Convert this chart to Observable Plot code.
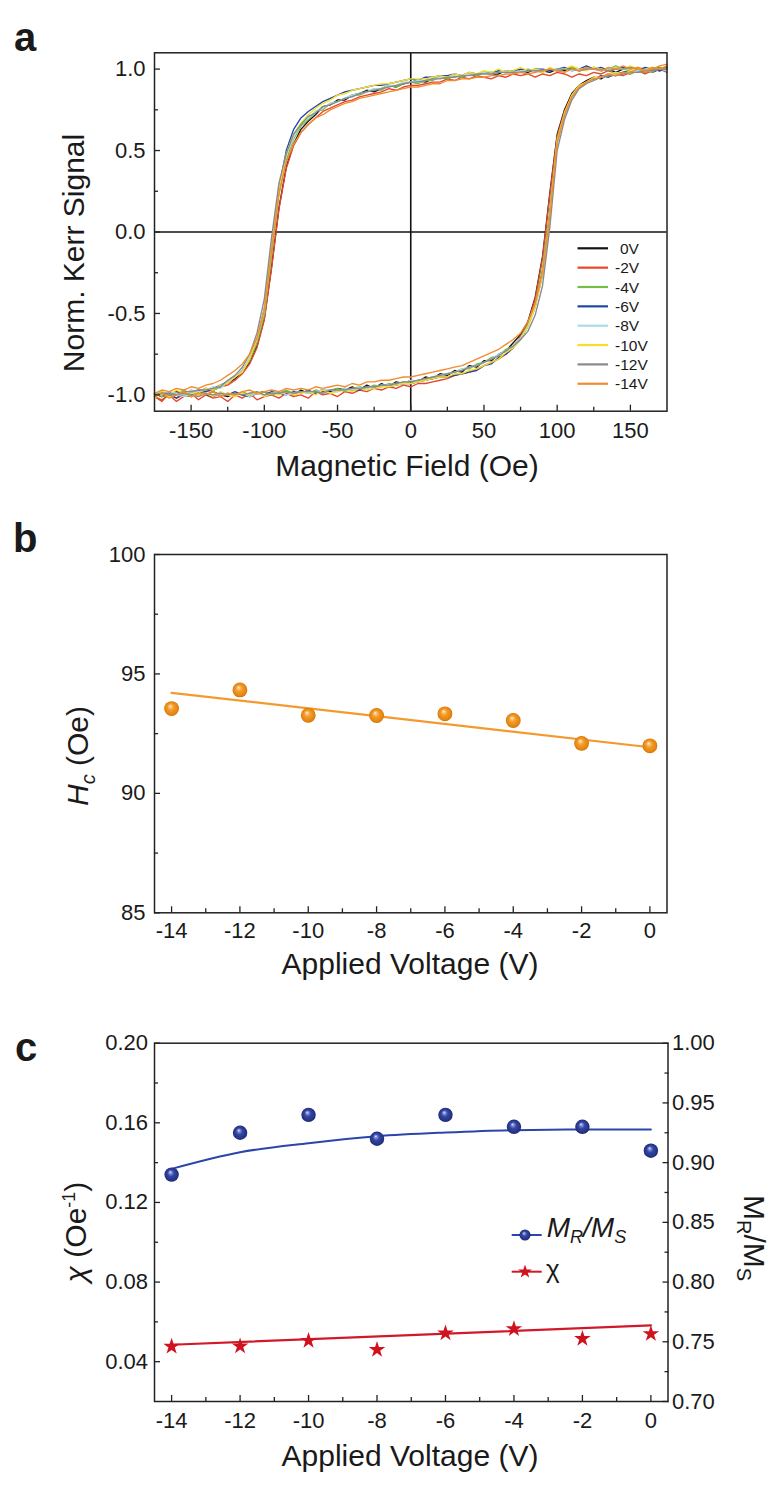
<!DOCTYPE html>
<html>
<head>
<meta charset="utf-8">
<script src="https://cdn.jsdelivr.net/npm/d3@7"></script>
<script src="https://cdn.jsdelivr.net/npm/@observablehq/plot@0.6"></script>
<style>
  html, body { margin: 0; padding: 0; background: #ffffff; }
  #chart { width: 780px; }
  #chart svg { display: block; }
</style>
</head>
<body>
<div id="chart"></div>
<script>
const FONT = '"Liberation Sans", Arial, Helvetica, sans-serif';

// ================= Panel a : Kerr hysteresis loops =================
const voltageLabels = ["0V", "-2V", "-4V", "-6V", "-8V", "-10V", "-12V", "-14V"];
const voltageColors = ["#141414", "#E8452C", "#72BF44", "#1F48A6", "#A9DCEB", "#F5DF2A", "#8A8A8A", "#F28B30"];

// applied magnetic field (Oe) at which the loops are read
const fieldOe = [-175,-170,-165,-160,-155,-150,-145,-140,-135,-130,-125,-120,-115,-110,-105,-100,-95,-90,-85,-80,
  -75,-70,-65,-60,-55,-50,-45,-40,-35,-30,-25,-20,-15,-10,-5,0,5,10,15,20,25,30,35,40,45,50,55,60,65,70,
  75,80,85,90,95,100,105,110,115,120,125,130,135,140,145,150,155,160,165,170,175];

// normalized Kerr signal ×100, field sweeping down (upper branch) and up (lower branch)
const sweepDown_0V = [-99,-101,-98,-100,-98,-98,-99,-96,-97,-95, -93,-90,-86,-80,-70,-53,-21,15,40,54,
  63,68,72,77,78,81,81,84,85,87, 86,88,90,89,91,92,93,92,94,95, 94,96,95,97,96,98,97,97,99,98,
  99,98,100,99,98,100,99,101,99,100, 101,99,100,98,100,101,99,100,98,100,101];
const sweepUp_0V = [-99,-101,-100,-98,-100,-101,-99,-100,-98,-100, -101,-99,-100,-101,-99,-98,-100,-99,-98,-100,
  -97,-99,-98,-97,-98,-96,-97,-95,-97,-94, -96,-93,-95,-92,-93,-91,-92,-89,-90,-87, -88,-85,-86,-82,-83,-79,-79,-75,-73,-68,
  -63,-55,-40,-15,24,60,75,85,90,93, 95,94,97,96,98,99,98,100,99,101,100];

const sweepDown_2V = [-101,-104,-99,-102,-100,-97,-100,-98,-97,-95, -94,-91,-87,-81,-71,-54,-22,14,39,53,
  61,66,70,74,76,78,80,81,83,84, 85,86,88,87,89,90,90,91,92,92, 94,93,95,94,96,95,94,96,95,97,
  96,97,95,97,96,98,97,95,97,96, 98,97,99,97,96,98,99,97,99,100,98];
const sweepUp_2V = [-101,-103,-100,-104,-101,-99,-103,-100,-102,-101, -104,-100,-102,-99,-103,-101,-100,-102,-99,-101,
  -100,-102,-98,-100,-99,-101,-98,-99,-97,-98, -96,-97,-95,-96,-94,-95,-93,-93,-92,-91, -90,-88,-87,-86,-84,-82,-80,-78,-75,-71,
  -64,-56,-41,-16,23,59,74,84,89,92, 94,95,97,96,98,97,99,98,100,99,101];

const sweepDown_4V = [-100,-98,-100,-99,-97,-99,-98,-96,-97,-95, -92,-89,-85,-79,-68,-51,-14,23,44,57,
  65,69,74,75,79,80,82,84,84,86, 88,87,90,89,91,92,91,93,93,95, 94,96,95,97,96,98,97,98,98,99,
  98,100,99,98,100,99,100,101,99,100, 101,99,100,102,100,99,101,100,98,101,99];
const sweepUp_4V = [-99,-101,-100,-98,-100,-101,-99,-100,-98,-100, -99,-101,-98,-100,-99,-98,-100,-99,-97,-99,
  -98,-99,-97,-98,-97,-96,-98,-96,-95,-96, -94,-95,-93,-94,-92,-93,-91,-90,-90,-88, -87,-86,-84,-84,-81,-80,-77,-76,-72,-70,
  -65,-57,-44,-22,14,57,73,83,89,92, 94,95,96,97,98,97,99,98,100,99,100];

const sweepDown_6V = [-100,-99,-101,-98,-99,-100,-97,-98,-96,-94, -92,-89,-85,-78,-66,-47,-10,27,50,63,
  70,74,77,80,82,84,86,87,88,89, 90,90,91,92,93,94,93,95,95,96, 96,97,96,98,97,98,98,99,98,99,
  100,99,100,100,99,100,101,99,100,102, 100,101,99,100,101,100,99,101,100,99,100];
const sweepUp_6V = [-101,-99,-100,-102,-99,-100,-98,-100,-101,-99, -100,-98,-100,-101,-99,-100,-98,-99,-100,-98,
  -99,-97,-99,-98,-97,-98,-96,-97,-97,-95, -96,-94,-95,-94,-93,-93,-92,-91,-90,-89, -89,-88,-87,-86,-85,-82,-81,-77,-75,-71,
  -66,-58,-46,-26,10,55,72,83,89,92, 94,96,95,97,98,98,99,100,99,100,101];

const sweepDown_8V = [-99,-100,-98,-99,-100,-97,-98,-97,-95,-96, -92,-89,-85,-77,-66,-48,-10,26,47,58,
  66,70,74,76,79,80,82,84,85,86, 88,88,90,90,92,92,93,93,94,95, 95,96,96,97,97,98,97,98,99,98,
  99,99,100,99,100,100,100,99,100,100, 100,99,100,101,100,100,99,100,101,100,99];
const sweepUp_8V = [-100,-100,-99,-100,-101,-99,-100,-99,-100,-100, -99,-100,-99,-101,-99,-100,-99,-98,-100,-99,
  -98,-99,-98,-97,-97,-98,-96,-97,-95,-96, -95,-94,-94,-93,-93,-91,-92,-90,-89,-88, -87,-86,-84,-83,-82,-80,-78,-75,-73,-70,
  -65,-58,-46,-26,10,55,72,83,89,92, 93,95,96,97,97,98,99,99,99,100,100];

const sweepDown_10V = [-101,-98,-100,-97,-99,-98,-99,-96,-97,-94, -93,-89,-86,-78,-66,-48,-10,26,48,60,
  67,72,76,79,81,84,85,87,88,89, 90,91,91,92,93,94,94,94,95,96, 95,97,96,98,97,99,98,100,98,99,
  101,99,100,98,101,99,100,102,100,99, 101,100,99,101,100,102,100,99,101,100,102];
const sweepUp_10V = [-102,-99,-101,-100,-98,-101,-100,-99,-101,-98, -100,-101,-99,-100,-98,-101,-99,-100,-98,-100,
  -99,-98,-100,-97,-99,-98,-97,-98,-96,-97, -96,-95,-95,-94,-93,-93,-92,-91,-90,-89, -89,-87,-87,-85,-84,-82,-80,-78,-74,-71,
  -66,-58,-46,-26,10,56,73,84,90,92, 95,95,97,98,97,99,100,99,101,100,100];

const sweepDown_12V = [-100,-99,-99,-100,-98,-98,-97,-97,-96,-95, -91,-88,-83,-75,-62,-41,-3,30,48,60,
  66,71,73,77,78,80,82,83,85,86, 87,88,89,90,91,92,92,93,94,94, 95,95,96,96,97,97,97,98,98,98,
  98,99,99,99,100,99,100,100,99,100, 100,100,99,100,100,101,100,99,100,100,100];
const sweepUp_12V = [-100,-99,-100,-100,-99,-100,-101,-99,-100,-99, -100,-99,-100,-99,-98,-100,-99,-99,-98,-99,
  -98,-98,-98,-99,-97,-97,-97,-96,-96,-95, -95,-94,-94,-93,-92,-92,-91,-90,-89,-88, -87,-86,-85,-83,-82,-80,-78,-76,-73,-70,
  -66,-61,-51,-33,3,50,69,81,88,91, 93,95,96,96,97,98,98,99,99,100,100];

const sweepDown_14V = [-99,-97,-98,-96,-97,-95,-96,-94,-93,-91, -88,-85,-81,-75,-65,-48,-11,24,43,54,
  61,66,70,72,75,77,79,80,82,83, 84,85,86,87,88,89,89,90,91,91, 93,93,94,94,95,95,96,96,97,97,
  98,97,98,99,100,99,98,100,99,101, 100,99,101,100,102,100,101,99,100,102,103];
const sweepUp_14V = [-101,-99,-102,-100,-98,-101,-99,-100,-98,-101, -99,-100,-98,-97,-99,-98,-97,-98,-96,-97,
  -96,-97,-95,-96,-95,-94,-95,-93,-94,-92, -92,-91,-91,-90,-89,-89,-88,-87,-86,-85, -84,-83,-82,-80,-78,-76,-74,-72,-69,-66,
  -62,-55,-44,-25,10,55,72,83,89,92, 94,95,97,96,98,98,100,99,101,100,102];

const sweepDownAll = [sweepDown_0V, sweepDown_2V, sweepDown_4V, sweepDown_6V, sweepDown_8V, sweepDown_10V, sweepDown_12V, sweepDown_14V];
const sweepUpAll = [sweepUp_0V, sweepUp_2V, sweepUp_4V, sweepUp_6V, sweepUp_8V, sweepUp_10V, sweepUp_12V, sweepUp_14V];

const aXMajor = [-150, -100, -50, 0, 50, 100, 150];
const aXMinor = [-125, -75, -25, 25, 75, 125];
const aYMajor = [-1, -0.5, 0, 0.5, 1];
const aYMinor = [-0.75, -0.25, 0.25, 0.75];

// ================= Panel b : coercive field =================
const appliedVoltage = [-14, -12, -10, -8, -6, -4, -2, 0];
const hcOe = [93.55, 94.33, 93.27, 93.26, 93.33, 93.05, 92.09, 91.99];
const hcFitVoltage = [-14, 0];
const hcFitOe = [94.21, 91.93];
const bXMajor = [-14, -12, -10, -8, -6, -4, -2, 0];
const bXMinor = [-13, -11, -9, -7, -5, -3, -1];
const bYMajor = [85, 90, 95, 100];
const bYMinor = [87.5, 92.5, 97.5];

// ================= Panel c : susceptibility and squareness =================
const mrMs = [0.890, 0.925, 0.940, 0.920, 0.940, 0.930, 0.930, 0.910];
const mrMsFit = [0.8948, 0.9087, 0.9163, 0.9221, 0.9252, 0.9272, 0.9277, 0.9277];
const chiValues = [0.0476, 0.0478, 0.0506, 0.0460, 0.0543, 0.0565, 0.0515, 0.0540];
const chiFitVoltage = [-14, 0];
const chiFit = [0.0485, 0.0582];
const chiDomain = [0.02, 0.20];
const ratioDomain = [0.70, 1.00];
const cYLeftMajor = [0.04, 0.08, 0.12, 0.16, 0.20];
const cYLeftMinor = [0.06, 0.10, 0.14, 0.18];
const cYRightMajor = [0.70, 0.75, 0.80, 0.85, 0.90, 0.95, 1.00];
const cYRightMinor = [0.725, 0.775, 0.825, 0.875, 0.925, 0.975];

// ---------- helpers ----------
const INK = "#1a1a1a";
const FRAME = "#222222";
const TICK_FONT = 22;
const TITLE_FONT = 30;
const blank = () => "";
const styleBase = {fontFamily: FONT, fontSize: "22px", color: INK, background: "none", overflow: "visible"};

function frameAxes({xMajor, xMinor, yMajor, yMinor, xFmt, yFmt, xPad = 10, yPad = 9}) {
  return [
    Plot.frame({stroke: FRAME, strokeWidth: 1.5}),
    Plot.axisX(xMajor, {tickSize: 0, tickPadding: xPad, tickFormat: xFmt, label: null, fontSize: TICK_FONT}),
    Plot.axisX(xMajor, {tickSize: 6, dy: -6, tickFormat: blank, label: null, stroke: FRAME, strokeWidth: 1.3}),
    Plot.axisX(xMinor, {tickSize: 4, dy: -4, tickFormat: blank, label: null, stroke: FRAME, strokeWidth: 1.3}),
    Plot.axisY(yMajor, {tickSize: 0, tickPadding: yPad, tickFormat: yFmt, label: null, fontSize: TICK_FONT}),
    Plot.axisY(yMajor, {tickSize: 6, dx: 6, tickFormat: blank, label: null, stroke: FRAME, strokeWidth: 1.3}),
    Plot.axisY(yMinor, {tickSize: 4, dx: 4, tickFormat: blank, label: null, stroke: FRAME, strokeWidth: 1.3})
  ];
}

function addText(svg, {x, y, rotate = 0, anchor = "middle", size = TITLE_FONT, weight = null, parts}) {
  const t = d3.select(svg).append("text")
    .attr("transform", `translate(${x},${y})` + (rotate ? ` rotate(${rotate})` : ""))
    .attr("text-anchor", anchor)
    .attr("font-size", size)
    .attr("fill", INK)
    .style("font-family", FONT);
  if (weight) t.attr("font-weight", weight);
  parts.forEach(p => {
    const s = t.append("tspan").text(p.t);
    if (p.size) s.attr("font-size", p.size);
    if (p.dy) s.attr("dy", p.dy);
    if (p.italic) s.attr("font-style", "italic");
  });
  return t;
}

function addSphere(svg, id, stops) {
  const g = d3.select(svg).append("defs").append("radialGradient").attr("id", id)
    .attr("cx", "50%").attr("cy", "50%").attr("r", "50%").attr("fx", "40%").attr("fy", "32%");
  stops.forEach(([o, c]) => g.append("stop").attr("offset", o).attr("stop-color", c));
}

const container = document.getElementById("chart");

// ================= build panel a =================
const loopRows = [];
voltageLabels.forEach((v, i) => {
  [["down", sweepDownAll[i]], ["up", sweepUpAll[i]]].forEach(([branch, arr]) => {
    arr.forEach((m, k) => {
      if (k < fieldOe.length) loopRows.push({v, branch, H: fieldOe[k], M: m / 100});
    });
  });
});

const svgA = Plot.plot({
  width: 780, height: 490,
  marginTop: 52.3, marginBottom: 79.3, marginLeft: 154, marginRight: 113.5,
  style: styleBase,
  x: {domain: [-175, 175], label: null},
  y: {domain: [-1.1, 1.1], label: null},
  color: {domain: voltageLabels, range: voltageColors},
  marks: [
    Plot.ruleX([0], {stroke: "#111", strokeWidth: 1.6}),
    Plot.ruleY([0], {stroke: "#111", strokeWidth: 1.6}),
    Plot.line(loopRows, {x: "H", y: "M", z: d => d.v + d.branch, stroke: "v", strokeWidth: 1.35, strokeLinejoin: "round"}),
    ...frameAxes({xMajor: aXMajor, xMinor: aXMinor, yMajor: aYMajor, yMinor: aYMinor,
      xFmt: d => String(d), yFmt: d => d.toFixed(1), xPad: 11, yPad: 9})
  ]
});
container.appendChild(svgA);

addText(svgA, {x: 14, y: 51, anchor: "start", size: 40, weight: "bold", parts: [{t: "a"}]});
addText(svgA, {x: 84, y: 253, rotate: -90, parts: [{t: "Norm. Kerr Signal"}]});
addText(svgA, {x: 407, y: 476, parts: [{t: "Magnetic Field (Oe)"}]});
{
  const leg = d3.select(svgA).append("g");
  voltageLabels.forEach((lab, i) => {
    const y = 248.3 + i * 19.35;
    leg.append("line").attr("x1", 577.5).attr("x2", 608).attr("y1", y).attr("y2", y)
      .attr("stroke", voltageColors[i]).attr("stroke-width", 2.2);
    leg.append("text").attr("x", lab.startsWith("-") ? 615 : 620).attr("y", y + 5.6)
      .attr("text-anchor", "start")
      .attr("font-size", 15.5).attr("fill", INK).style("font-family", FONT).text(lab);
  });
}

// ================= build panel b =================
const hcRows = appliedVoltage.map((v, i) => ({v, hc: hcOe[i]}));
const hcFitRows = hcFitVoltage.map((v, i) => ({v, hc: hcFitOe[i]}));

const svgB = Plot.plot({
  width: 780, height: 510,
  marginTop: 64, marginBottom: 87.7, marginLeft: 154, marginRight: 113.5,
  style: styleBase,
  x: {domain: [-14.5, 0.5], label: null},
  y: {domain: [85, 100], label: null},
  marks: [
    Plot.line(hcFitRows, {x: "v", y: "hc", stroke: "#F39A2E", strokeWidth: 2.2}),
    Plot.dot(hcRows, {x: "v", y: "hc", r: 7.4, fill: "url(#sphereOrange)", stroke: null}),
    ...frameAxes({xMajor: bXMajor, xMinor: bXMinor, yMajor: bYMajor, yMinor: bYMinor,
      xFmt: d => String(d), yFmt: d => String(d), xPad: 10, yPad: 9})
  ]
});
container.appendChild(svgB);
addSphere(svgB, "sphereOrange", [["0%", "#fff7e6"], ["18%", "#f9c67a"], ["45%", "#f29a26"], ["85%", "#e68510"], ["100%", "#cf700a"]]);
addText(svgB, {x: 13, y: 61.7, anchor: "start", size: 40, weight: "bold", parts: [{t: "b"}]});
addText(svgB, {x: 88, y: 266, rotate: -90, parts: [
  {t: "H", italic: true}, {t: "c", italic: true, size: 20, dy: 7}, {t: " (Oe)", size: TITLE_FONT, dy: -7}
]});
addText(svgB, {x: 410, y: 484, parts: [{t: "Applied Voltage (V)"}]});

// ================= build panel c =================
const toLeft = m => chiDomain[0] + (m - ratioDomain[0]) * (chiDomain[1] - chiDomain[0]) / (ratioDomain[1] - ratioDomain[0]);
const toRight = y => ratioDomain[0] + (y - chiDomain[0]) * (ratioDomain[1] - ratioDomain[0]) / (chiDomain[1] - chiDomain[0]);

const mrRows = appliedVoltage.map((v, i) => ({v, y: toLeft(mrMs[i])}));
const mrFitRows = appliedVoltage.map((v, i) => ({v, y: toLeft(mrMsFit[i])}));
const chiRows = appliedVoltage.map((v, i) => ({v, y: chiValues[i]}));
const chiFitRows = chiFitVoltage.map((v, i) => ({v, y: chiFit[i]}));

const svgC = Plot.plot({
  width: 780, height: 497,
  marginTop: 42.7, marginBottom: 96, marginLeft: 154, marginRight: 112.5,
  style: styleBase,
  x: {domain: [-14.5, 0.5], label: null},
  y: {domain: chiDomain, label: null},
  marks: [
    Plot.line(mrFitRows, {x: "v", y: "y", stroke: "#2B45A8", strokeWidth: 2, curve: "monotone-x"}),
    Plot.dot(mrRows, {x: "v", y: "y", r: 7.2, fill: "url(#sphereBlue)", stroke: null}),
    Plot.line(chiFitRows, {x: "v", y: "y", stroke: "#D2192A", strokeWidth: 2.2}),
    Plot.dot(chiRows, {x: "v", y: "y", r: 5.2, symbol: "star", fill: "#D0121F", stroke: null}),
    ...frameAxes({xMajor: bXMajor, xMinor: bXMinor, yMajor: cYLeftMajor, yMinor: cYLeftMinor,
      xFmt: d => String(d), yFmt: d => d.toFixed(2), xPad: 10.5, yPad: 6.5}),
    Plot.axisY(cYRightMajor.map(toLeft), {anchor: "right", tickSize: 0, tickPadding: 4, tickFormat: d => toRight(d).toFixed(2), label: null, fontSize: TICK_FONT}),
    Plot.axisY(cYRightMajor.map(toLeft), {anchor: "right", tickSize: 6, dx: -6, tickFormat: blank, label: null, stroke: FRAME, strokeWidth: 1.3}),
    Plot.axisY(cYRightMinor.map(toLeft), {anchor: "right", tickSize: 4, dx: -4, tickFormat: blank, label: null, stroke: FRAME, strokeWidth: 1.3})
  ]
});
container.appendChild(svgC);
addSphere(svgC, "sphereBlue", [["0%", "#eef0ff"], ["15%", "#8d9ae0"], ["45%", "#34469f"], ["85%", "#243489"], ["100%", "#18236a"]]);
addText(svgC, {x: 15, y: 61, anchor: "start", size: 40, weight: "bold", parts: [{t: "c"}]});
addText(svgC, {x: 86, y: 232, rotate: -90, parts: [
  {t: "χ", italic: true}, {t: " (Oe"}, {t: "-1", size: 18, dy: -11}, {t: ")", size: TITLE_FONT, dy: 11}
]});
addText(svgC, {x: 744, y: 238, rotate: 90, parts: [
  {t: "M"}, {t: "R", size: 20, dy: 7}, {t: "/", size: TITLE_FONT, dy: -7}, {t: "M"}, {t: "S", size: 20, dy: 7}
]});
addText(svgC, {x: 410, y: 466, parts: [{t: "Applied Voltage (V)"}]});
{
  const leg = d3.select(svgC).append("g");
  leg.append("line").attr("x1", 511.7).attr("x2", 541.7).attr("y1", 235).attr("y2", 235)
    .attr("stroke", "#2B45A8").attr("stroke-width", 2);
  leg.append("circle").attr("cx", 525).attr("cy", 235).attr("r", 5.5).attr("fill", "url(#sphereBlue)");
  leg.append("line").attr("x1", 511.7).attr("x2", 541.7).attr("y1", 271.7).attr("y2", 271.7)
    .attr("stroke", "#D2192A").attr("stroke-width", 2);
  leg.append("path").attr("transform", "translate(525,271.7)")
    .attr("d", d3.symbol(d3.symbolStar, 60)()).attr("fill", "#D0121F");
  addText(svgC, {x: 546.7, y: 237, anchor: "start", size: 28, parts: [
    {t: "M", italic: true}, {t: "R", italic: true, size: 18, dy: 6}, {t: "/", italic: true, size: 28, dy: -6},
    {t: "M", italic: true}, {t: "S", italic: true, size: 18, dy: 6}
  ]});
  addText(svgC, {x: 546, y: 278, anchor: "start", size: 26, parts: [{t: "χ"}]});
}
</script>
</body>
</html>
